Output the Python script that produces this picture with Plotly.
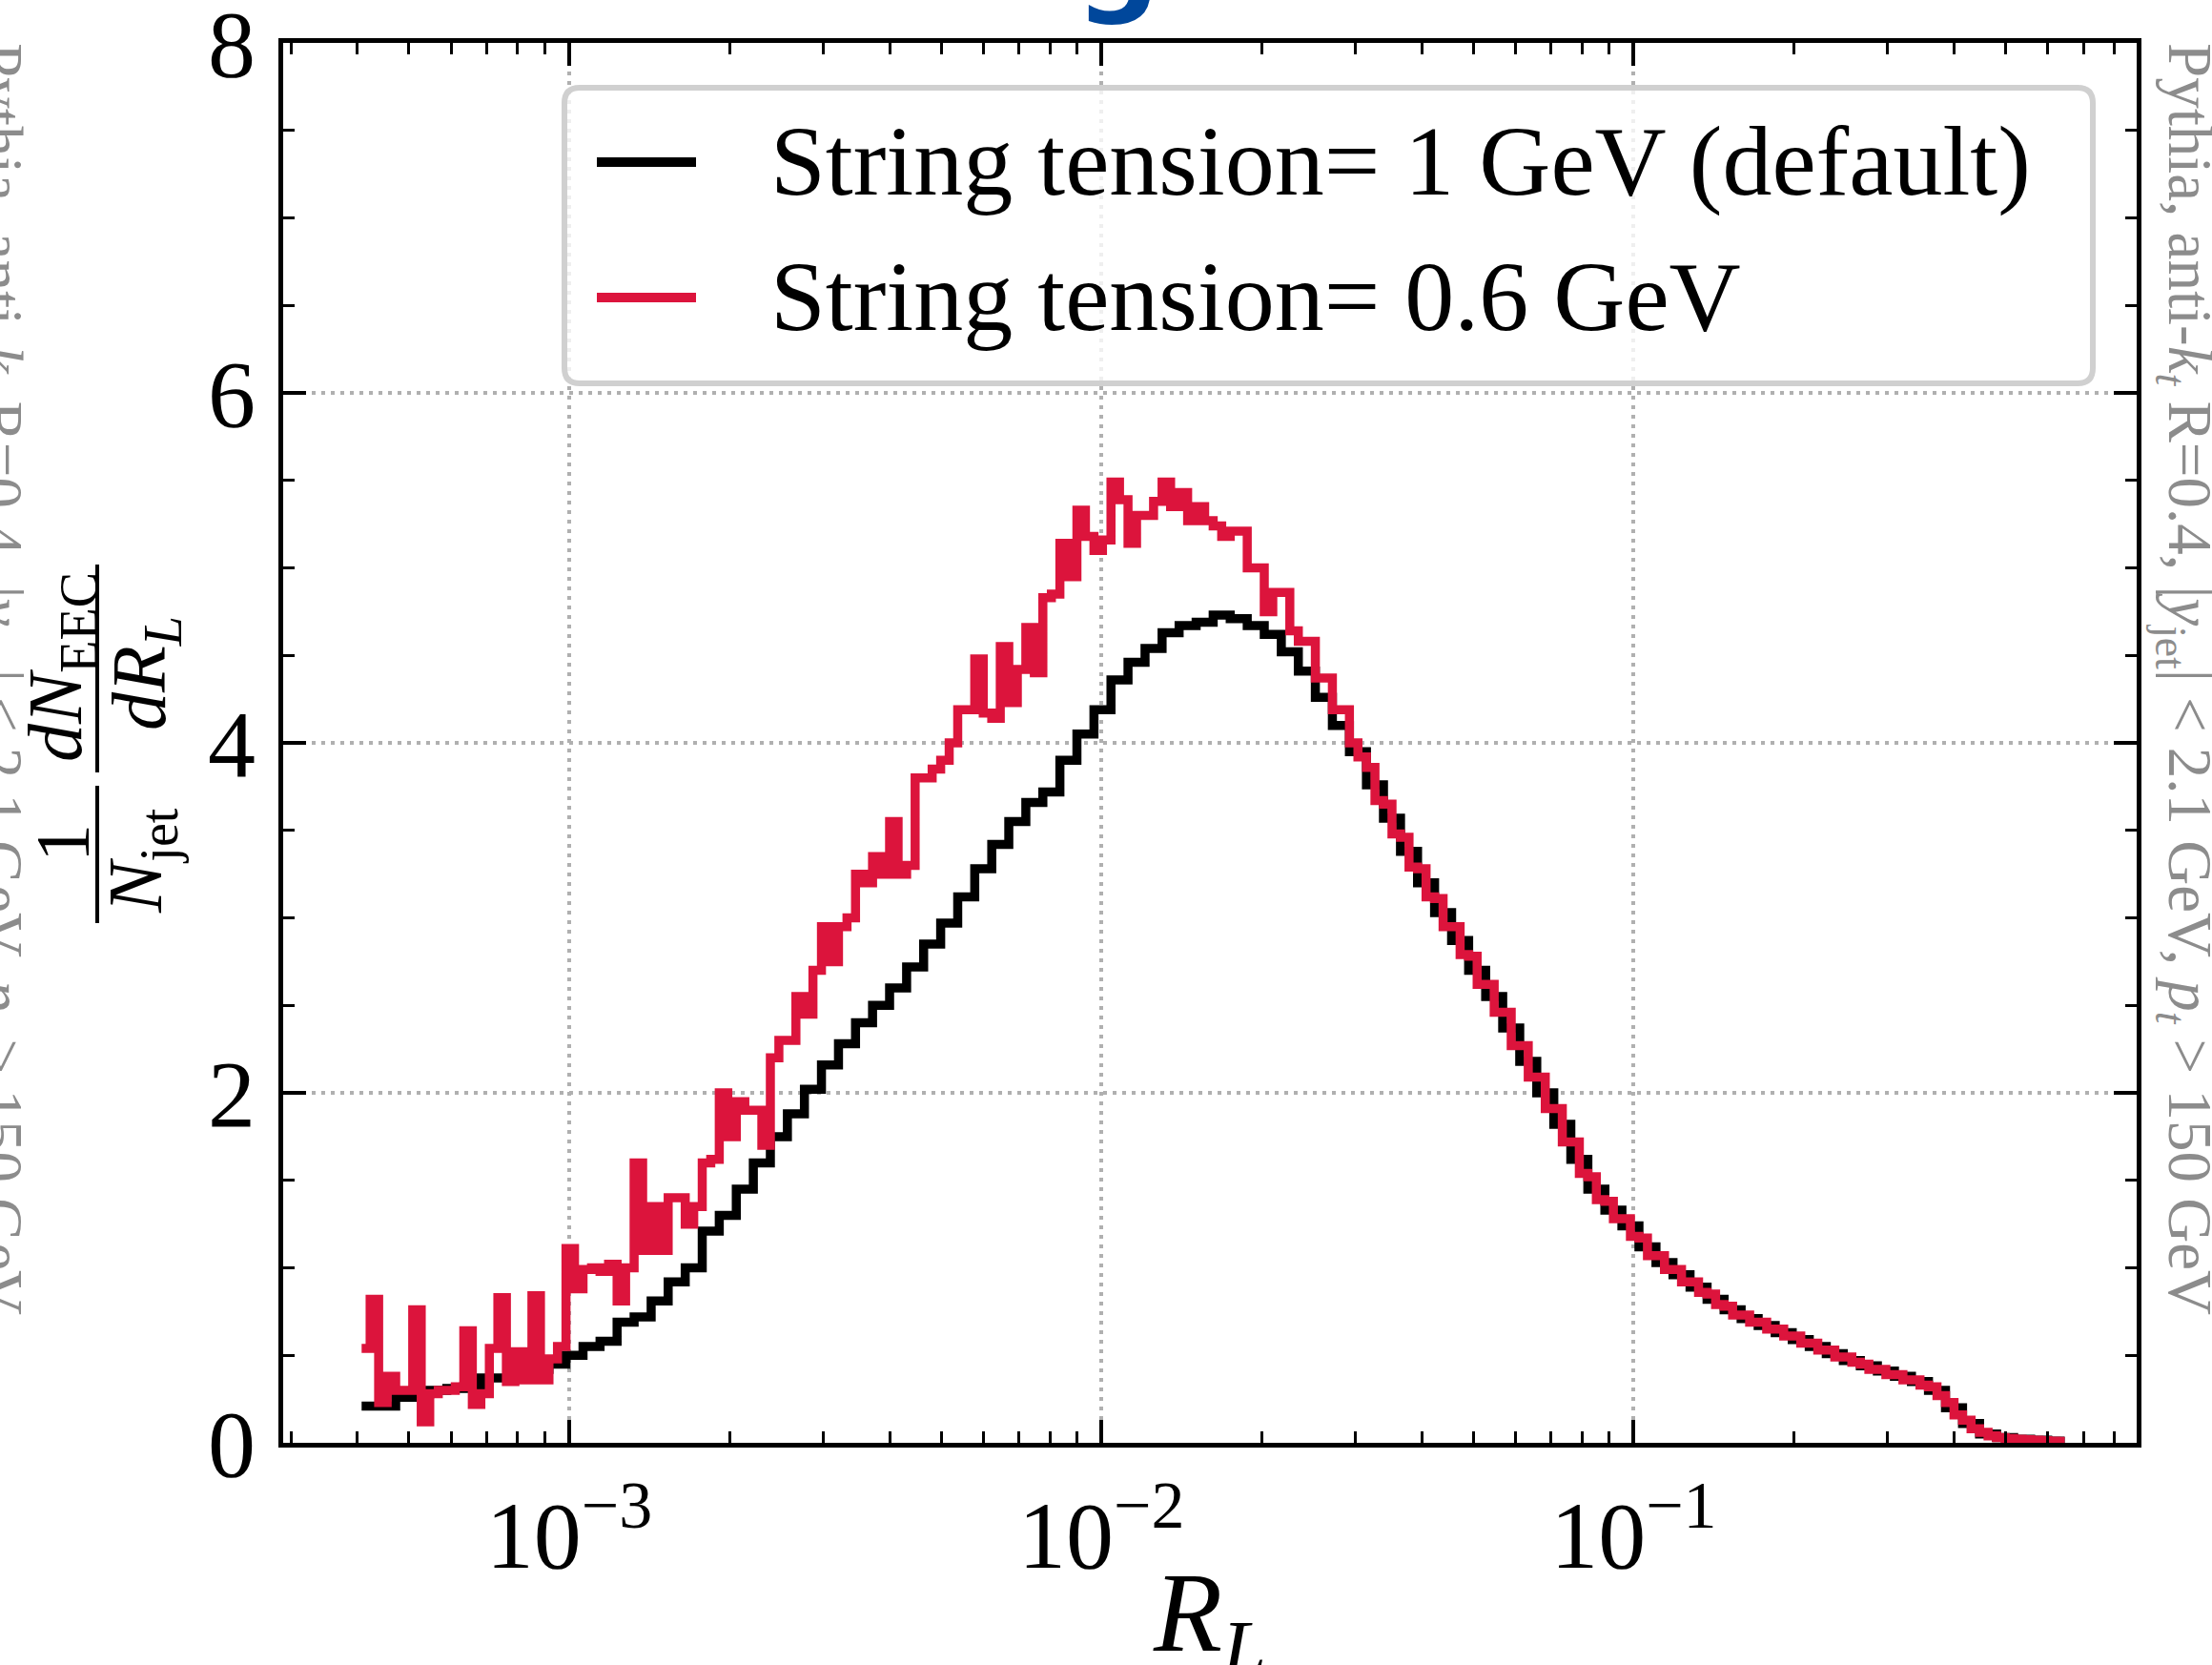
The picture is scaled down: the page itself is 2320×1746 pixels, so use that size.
import numpy as np
import plotly.graph_objects as go

# ---------------- data ----------------
# log10(R_L) binning: first edge, bin width, number of bins (black histogram)
log_edge_start = -3.39
log_bin_width = 0.032
n_bins_black = 100

# String tension = 1 GeV (default)   -- one value per bin
black_vals = [
    0.21, 0.21, 0.26, 0.28, 0.30, 0.31, 0.32, 0.37, 0.37, 0.40,
    0.42, 0.45, 0.50, 0.55, 0.58, 0.69, 0.72, 0.81, 0.92, 1.00,
    1.21, 1.30, 1.45, 1.60, 1.75, 1.88, 2.02, 2.16, 2.28, 2.40,
    2.50, 2.60, 2.72, 2.85, 2.97, 3.12, 3.28, 3.42, 3.55, 3.66,
    3.72, 3.90, 4.05, 4.19, 4.36, 4.46, 4.54, 4.63, 4.67, 4.69,
    4.73, 4.71, 4.67, 4.62, 4.52, 4.41, 4.26, 4.10, 3.95, 3.76,
    3.57, 3.38, 3.20, 3.03, 2.87, 2.70, 2.55, 2.37, 2.18, 2.00,
    1.82, 1.62, 1.45, 1.33, 1.24, 1.12, 1.03, 0.96, 0.89, 0.82,
    0.76, 0.71, 0.67, 0.63, 0.59, 0.55, 0.51, 0.47, 0.44, 0.41,
    0.38, 0.35, 0.30, 0.20, 0.11, 0.05, 0.03, 0.02, 0.015, 0.01,
]

# String tension = 0.6 GeV  -- finer binning (two bins per black bin)
n_bins_red = 200
red_vals = [
    0.54, 0.82, 0.23, 0.38, 0.30, 0.30, 0.76, 0.12, 0.28, 0.30,
    0.30, 0.32, 0.64, 0.22, 0.28, 0.54, 0.83, 0.35, 0.52, 0.36,
    0.84, 0.36, 0.48, 0.55, 1.11, 0.88, 0.99, 1.00, 0.98, 1.02,
    0.81, 1.00, 1.60, 1.10, 1.35, 1.10, 1.40, 1.40, 1.25, 1.35,
    1.60, 1.62, 2.00, 1.75, 1.95, 1.90, 1.90, 1.70, 2.20, 2.30,
    2.30, 2.55, 2.45, 2.70, 2.95, 2.75, 2.95, 3.00, 3.25, 3.20,
    3.35, 3.25, 3.55, 3.25, 3.30, 3.80, 3.80, 3.85, 3.90, 4.00,
    4.19, 4.19, 4.48, 4.17, 4.14, 4.55, 4.23, 4.42, 4.66, 4.40,
    4.83, 4.85, 5.14, 4.95, 5.33, 5.18, 5.10, 5.16, 5.49, 5.39,
    5.14, 5.30, 5.30, 5.38, 5.49, 5.35, 5.43, 5.27, 5.35, 5.27,
    5.24, 5.18, 5.21, 5.21, 5.00, 5.00, 4.75, 4.86, 4.86, 4.64,
    4.58, 4.58, 4.37, 4.37, 4.19, 4.19, 4.00, 3.92, 3.86, 3.67,
    3.65, 3.48, 3.46, 3.29, 3.28, 3.12, 3.11, 2.95, 2.95, 2.79,
    2.78, 2.62, 2.62, 2.46, 2.46, 2.27, 2.27, 2.09, 2.09, 1.91,
    1.91, 1.72, 1.72, 1.54, 1.52, 1.39, 1.38, 1.28, 1.28, 1.18,
    1.17, 1.07, 1.07, 0.99, 0.99, 0.92, 0.92, 0.86, 0.85, 0.79,
    0.78, 0.73, 0.73, 0.69, 0.69, 0.65, 0.65, 0.61, 0.61, 0.57,
    0.57, 0.53, 0.53, 0.49, 0.49, 0.46, 0.45, 0.42, 0.42, 0.39,
    0.39, 0.36, 0.36, 0.33, 0.32, 0.27, 0.23, 0.16, 0.13, 0.08,
    0.06, 0.04, 0.03, 0.025, 0.02, 0.018, 0.015, 0.012, 0.01, 0.008,
]

series_names = ["String tension= 1 GeV (default)", "String tension= 0.6 GeV"]
series_colors = ["#000000", "#DC143C"]

x_tick_vals = [1e-3, 1e-2, 1e-1]
x_tick_text = ["10<sup>\u22123</sup>", "10<sup>\u22122</sup>", "10<sup>\u22121</sup>"]
y_tick_vals = [0, 2, 4, 6, 8]

info_text = ("Pythia, anti-<i>k<sub>t</sub></i> R=0.4, |<i>y</i><sub>jet</sub>| &lt; 2.1 GeV, "
             "<i>p<sub>t</sub></i> &gt; 150 GeV")

# ---------------- geometry ----------------
FIG_W, FIG_H = 2320, 1746
L, R, T, B = 297, 2241, 45, 1513
PW, PH = R - L, B - T
x_range_log = [-3.5374, -0.0548]
SERIF = "Liberation Serif, Times New Roman, serif"


def xp(px):
    return (px - L) / PW


def yp(py):
    return (B - py) / PH


def step_xy(n_bins, vals):
    width_log = log_bin_width * n_bins_black / n_bins
    edges = 10 ** (log_edge_start + width_log * np.arange(n_bins + 1))
    return edges, list(vals) + [vals[-1]]


fig = go.Figure()
for n, vals, name, col in [(n_bins_black, black_vals, series_names[0], series_colors[0]),
                           (n_bins_red, red_vals, series_names[1], series_colors[1])]:
    ex, ey = step_xy(n, vals)
    fig.add_trace(go.Scatter(x=ex, y=ey, mode="lines", name=name,
                             line=dict(color=col, width=9.5, shape="hv"),
                             showlegend=False))

axis_common = dict(
    showline=True, linewidth=5, linecolor="black", mirror="allticks",
    ticks="inside", ticklen=24, tickwidth=3.5, tickcolor="black",
    showgrid=True, gridcolor="#b0b0b0", gridwidth=3.5, griddash="4px,6px",
    zeroline=False, ticklabeloverflow="allow", automargin=False,
    tickfont=dict(family=SERIF, size=100, color="black"),
)

fig.update_xaxes(type="log", range=x_range_log, tickvals=x_tick_vals, ticktext=x_tick_text,
                 ticklabelstandoff=6,
                 minor=dict(ticks="inside", ticklen=12, tickwidth=2.5, tickcolor="black",
                            dtick="D1", showgrid=False),
                 **axis_common)
fig.update_yaxes(range=[0, 8], tickvals=y_tick_vals, ticklabelstandoff=4,
                 minor=dict(ticks="inside", ticklen=12, tickwidth=2.5, tickcolor="black",
                            dtick=0.5, showgrid=False),
                 **axis_common)

shapes = []
annotations = []

# legend box (rounded)
bx0, bx1, by0, by1 = 592, 2195, 92, 402
rr = 16
rx, ry = rr / PW, rr / PH
X0, X1, Y0, Y1 = xp(bx0), xp(bx1), yp(by1), yp(by0)
path = (f"M {X0+rx},{Y0} L {X1-rx},{Y0} Q {X1},{Y0} {X1},{Y0+ry} L {X1},{Y1-ry} "
        f"Q {X1},{Y1} {X1-rx},{Y1} L {X0+rx},{Y1} Q {X0},{Y1} {X0},{Y1-ry} "
        f"L {X0},{Y0+ry} Q {X0},{Y0} {X0+rx},{Y0} Z")
shapes.append(dict(type="path", xref="paper", yref="paper", path=path,
                   line=dict(color="#d0d0d0", width=6),
                   fillcolor="rgba(255,255,255,0.8)", layer="above"))
for row_y, name, col in [(170, series_names[0], series_colors[0]),
                         (312, series_names[1], series_colors[1])]:
    shapes.append(dict(type="line", xref="paper", yref="paper",
                       x0=xp(626), x1=xp(730), y0=yp(row_y), y1=yp(row_y),
                       line=dict(color=col, width=10), layer="above"))
    annotations.append(dict(xref="paper", yref="paper", x=xp(806), y=yp(row_y - 1),
                            xanchor="left", yanchor="middle", text=name, showarrow=False,
                            font=dict(family=SERIF, size=104, color="black")))

# x axis title
annotations.append(dict(xref="paper", yref="paper", x=xp(1268), y=yp(1700),
                        xanchor="center", yanchor="middle",
                        text="<i>R</i><sub><i>L</i></sub>", showarrow=False,
                        font=dict(family=SERIF, size=118, color="black")))

# y axis title built as a stacked fraction (rotated)
yfs = 80
for txt, cx, cy in [("1", 66, 884),
                    ("<i>N</i><sub>jet</sub>", 148, 903),
                    ("<i>dN</i><sub>EEC</sub>", 64, 700),
                    ("<i>dR</i><sub><i>L</i></sub>", 152, 706)]:
    annotations.append(dict(xref="paper", yref="paper", x=xp(cx), y=yp(cy),
                            xanchor="center", yanchor="middle", textangle=-90,
                            text=txt, showarrow=False,
                            font=dict(family=SERIF, size=yfs, color="black")))
for y_a, y_b in [(824, 968), (592, 810)]:
    shapes.append(dict(type="line", xref="paper", yref="paper",
                       x0=xp(102), x1=xp(102), y0=yp(y_a), y1=yp(y_b),
                       line=dict(color="black", width=4)))

# side info texts (right, and the clipped one of the neighbouring panel on the left)
for cx in [2292, -4]:
    annotations.append(dict(xref="paper", yref="paper", x=xp(cx), y=yp(712),
                            xanchor="center", yanchor="middle", textangle=90,
                            text=info_text, showarrow=False,
                            font=dict(family=SERIF, size=65, color="#8c8c8c")))

# clipped title glyph at the very top
annotations.append(dict(xref="paper", yref="paper", x=xp(1172), y=yp(30),
                        xanchor="center", yanchor="bottom", text="<b>g</b>",
                        showarrow=False,
                        font=dict(family="DejaVu Sans", size=124, color="#00479b")))

fig.update_layout(
    width=FIG_W, height=FIG_H,
    margin=dict(l=L, r=FIG_W - R, t=T, b=FIG_H - B, pad=0, autoexpand=False),
    paper_bgcolor="white", plot_bgcolor="white",
    shapes=shapes, annotations=annotations, showlegend=False,
)

fig.write_html("out.html")
